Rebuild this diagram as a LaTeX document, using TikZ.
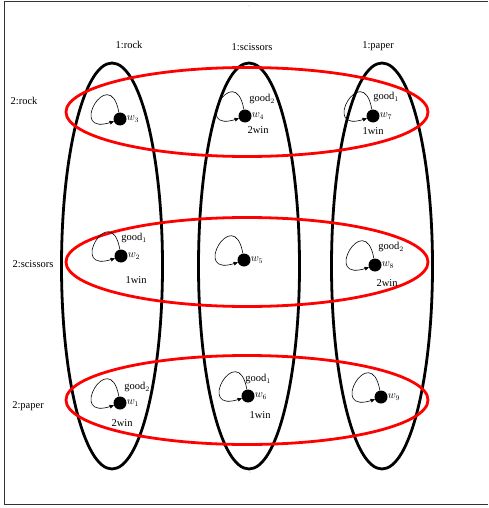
\documentclass[tikz,border=0pt]{standalone}
\usepackage{fontspec}
\setmainfont{Liberation Serif}
\usepackage{tikz}
\usetikzlibrary{arrows}
\usetikzlibrary{shapes.geometric}
\usetikzlibrary{positioning}

\begin{document}
\begin{tikzpicture}[x=1pt,y=-1pt,>=stealth',
                    every node/.style=    {font=\fontsize{10.5}{12}\selectfont},
                    world/.style=         {circle,fill=black,inner sep=0pt,minimum size=13pt},
                    player one/.style=    {ellipse,line width=2.8pt,draw=black,minimum width=101pt,minimum height=406pt},
                    player two/.style=    {ellipse,line width=2.8pt,draw=red,minimum width=362pt,minimum height=89pt},
                    self loop/.style=     {->,semithick,out=100,in=200,distance=52pt},
                    tag/.style=           {inner sep=1pt}]
      \useasboundingbox (0,0) rectangle (488,508);
      \draw[thick,black!80] (488,1) -- (4,1) -- (4,504) -- (488,504);
      \fill[black!40] (249,6) circle (0.5pt);
      \fill[black!40] (250,472) circle (0.5pt);
      % accessibility relation of player 1
      \node[player one] (r1) at (112,266) {};
      \node[player one] (s1) at (249,266) {};
      \node[player one] (p1) at (382,266) {};
      % accessibility relation of player 2
      \node[player two] (r2) at (247,112) {};
      \node[player two] (s2) at (247,262) {};
      \node[player two] (p2) at (247,400) {};
      % strategy labels
      \node (l1r) at (129,45) {1:rock};
      \node (l1s) at (252,47) {1:scissors};
      \node (l1p) at (378,46) {1:paper};
      \node (l2r) at (24,101) {2:rock};
      \node (l2s) at (33,264) {2:scissors};
      \node (l2p) at (28,406) {2:paper};
      % worlds
      \node[world] (w3) at (120,119) {};
      \node[world] (w4) at (245,116) {};
      \node[world] (w7) at (373,116) {};
      \node[world] (w2) at (121,256) {};
      \node[world] (w5) at (244,260) {};
      \node[world] (w8) at (375,265) {};
      \node[world] (w1) at (120,403) {};
      \node[world] (w6) at (248,396) {};
      \node[world] (w9) at (381,397) {};
      \foreach \w in {1,...,9}
        \node[tag,right=-1pt of w\w] (n\w) {$w_{\w}$};
      % reflexive arrows
      \foreach \w in {1,...,9}
        \draw[self loop] (w\w) to (w\w);
      % goods and wins
      \node[tag] (g4) at (262,99)  {good$_2$};
      \node[tag] (v4) at (258,130) {2win};
      \node[tag] (g7) at (386,97)  {good$_1$};
      \node[tag] (v7) at (373,131) {1win};
      \node[tag] (g2) at (134,238) {good$_1$};
      \node[tag] (v2) at (136,280) {1win};
      \node[tag] (g8) at (391,247) {good$_2$};
      \node[tag] (v8) at (387,283) {2win};
      \node[tag] (g1) at (137,387) {good$_2$};
      \node[tag] (v1) at (122,423) {2win};
      \node[tag] (g6) at (258,379) {good$_1$};
      \node[tag] (v6) at (260,415) {1win};
\end{tikzpicture}
\end{document}
